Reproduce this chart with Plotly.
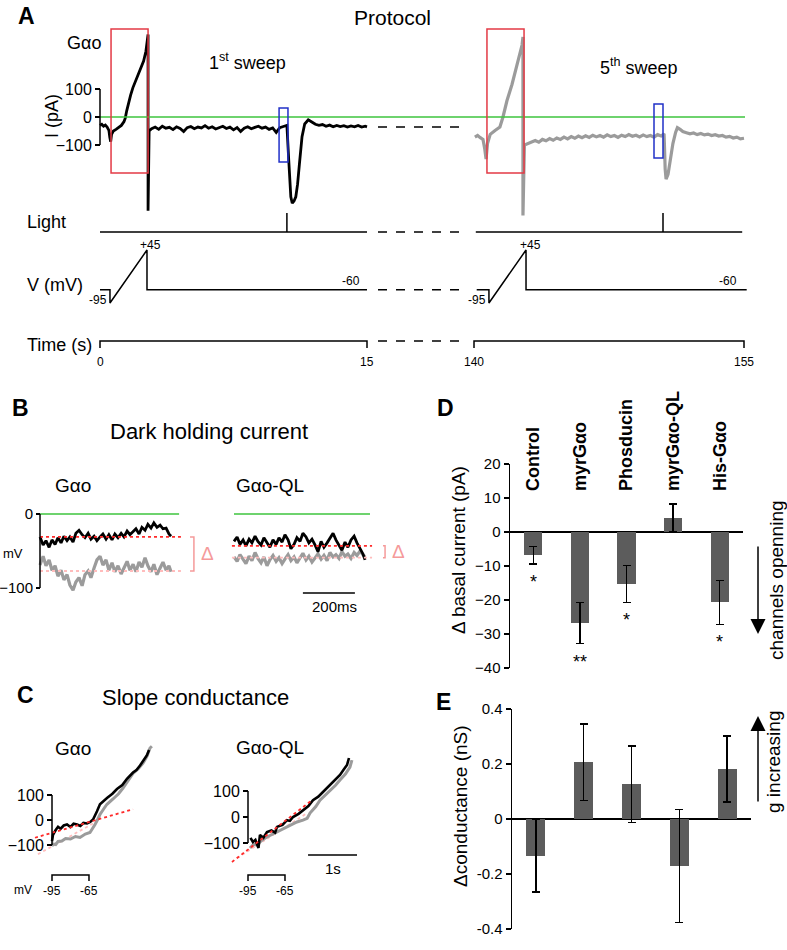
import plotly.graph_objects as go

W, H = 787, 950
FONT = "Liberation Sans, Arial, Helvetica, sans-serif"
BLACK = "#000000"
GRAY = "#9b9b9b"
GREEN = "#3ec43e"
RED_DOT = "#ff2a2a"
PINK_DOT = "#ffbcbc"
PINK = "#f59a9a"
BOX_RED = "#e33a45"
BOX_BLUE = "#2030c8"
BAR = "#5c5c5c"

# ====================== DATA ======================
# ---- Panel A: whole-cell current, sweep 1 and sweep 5 (time s, current pA)
sweep1_time = [0.0, 0.1, 0.2, 0.3, 0.4, 0.5, 0.55, 0.6, 0.65, 0.75,
               0.9, 1.05, 1.2, 1.35, 1.42, 1.5, 1.6, 1.72, 1.85, 2.0,
               2.15, 2.3, 2.45, 2.58, 2.7, 2.7, 2.76, 2.9, 3.1, 3.3,
               3.5, 3.7, 3.9, 4.1, 4.3, 4.5, 4.7, 4.9, 5.1, 5.3,
               5.5, 5.7, 5.9, 6.1, 6.3, 6.5, 6.7, 6.9, 7.1, 7.3,
               7.5, 7.7, 7.9, 8.1, 8.3, 8.5, 8.7, 8.9, 9.1, 9.3,
               9.5, 9.7, 9.9, 10.1, 10.3, 10.5, 10.6, 10.65, 10.72, 10.8,
               10.9, 11.0, 11.1, 11.2, 11.35, 11.5, 11.7, 11.9, 12.1, 12.3,
               12.5, 12.7, 12.9, 13.1, 13.3, 13.5, 13.7, 13.9, 14.1, 14.3,
               14.5, 14.7, 14.9, 15.0]
sweep1_current = [-30, -26, -33, -29, -36, -48, -72, -88, -62, -50,
                  -44, -38, -30, -16, -4, 22, 52, 78, 105, 128,
                  150, 172, 200, 235, 295, -335, -50, -42, -36, -44,
                  -33, -40, -37, -45, -35, -41, -52, -38, -34, -42,
                  -36, -39, -31, -40, -35, -43, -37, -33, -41, -36,
                  -46, -38, -52, -40, -35, -42, -37, -33, -40, -36,
                  -44, -39, -55, -38, -34, -30, -150, -230, -285, -308,
                  -300, -285, -240, -170, -70, -25, -10, -18, -26, -30,
                  -27, -33, -29, -35, -30, -34, -31, -36, -32, -35,
                  -30, -36, -33, -35]
sweep5_time = [140.05, 140.2, 140.35, 140.5, 140.6, 140.67, 140.75, 140.9, 141.17, 141.44,
               141.61, 141.83, 142.11, 142.39, 142.67, 142.72, 142.72, 142.8, 143.0,
               143.2, 143.4, 143.6, 143.8, 144.0, 144.2, 144.4, 144.6, 144.8, 145.0,
               145.2, 145.4, 145.6, 145.8, 146.0, 146.2, 146.4, 146.6, 146.8, 147.0,
               147.2, 147.4, 147.6, 147.8, 148.0, 148.2, 148.4, 148.6, 148.8, 149.0,
               149.2, 149.4, 149.6, 149.8, 150.0, 150.2, 150.4,
               150.56, 150.62, 150.67, 150.78, 150.9, 151.05, 151.2, 151.3, 151.45, 151.6,
               151.8, 152.0, 152.2, 152.4, 152.6, 152.8, 153.0, 153.2, 153.4, 153.6,
               153.8, 154.0, 154.2, 154.4, 154.6, 154.8, 155.0]
sweep5_current = [-72, -66, -74, -80, -115, -150, -95, -62, -48, -36,
                  0, 58, 116, 187, 257, 286, -352, -100, -94,
                  -88, -84, -90, -80, -85, -77, -83, -75, -80, -72,
                  -78, -70, -76, -68, -74, -67, -73, -65, -71, -66,
                  -72, -64, -70, -66, -73, -65, -70, -63, -69, -65,
                  -71, -64, -70, -66, -72, -63, -68,
                  -60, -185, -222, -205, -155, -95, -55, -38, -44, -52,
                  -56, -60, -57, -63, -59, -64, -61, -66, -63, -68,
                  -66, -72, -69, -75, -72, -78, -76]
sweep1_span = [0, 15]
sweep5_span = [140, 155]
gap_current_level = -36            # pA, dashed continuation between sweeps
light_on = [10.5, 150.5]           # s, light flash times
light_row_span = [[0, 15], [140.1, 154.9]]
v_hold, v_ramp_lo, v_ramp_hi = -60, -95, 45   # mV
sweep1_ramp = [0.56, 2.64]
sweep5_ramp = [140.83, 142.89]
sweep_v_span = [[0, 15], [140.15, 155.15]]
ramp_windows = [[0.62, 2.70], [140.72, 142.78]]
ramp_window_current = [-200, 314]
light_windows = [[10.06, 10.56], [150.0, 150.5]]
light_window_current = [[-161, 32], [-146, 46]]
time_ticks = [[0, 15], [140, 155]]

# ---- Panel B: dark holding current (time ms, current)
b_time_ms = [0, 12, 23, 35, 46, 58, 69, 81, 92, 104, 115, 127, 138, 150, 162,
             173, 185, 196, 208, 219, 231, 242, 254, 265, 277, 288, 300, 312,
             323, 335, 346, 358, 369, 381, 392, 404, 415, 427, 438, 450, 462,
             473, 485, 496, 504]
b_gao_black = [-31, -42, -36, -45, -35, -41, -32, -39, -30, -36, -31, -38, -26, -22, -28,
               -32, -26, -34, -30, -36, -31, -27, -34, -28, -35, -27, -32, -26, -31,
               -23, -28, -24, -20, -27, -18, -22, -14, -19, -12, -18, -15, -20, -19,
               -27, -30]
b_gao_gray = [-69, -57, -70, -62, -76, -70, -84, -76, -89, -82, -96, -103, -92, -86, -97,
              -82, -77, -86, -73, -62, -57, -69, -62, -76, -66, -78, -70, -81, -73,
              -64, -76, -68, -78, -65, -72, -59, -70, -78, -68, -82, -73, -65, -76,
              -70, -78]
b_ql_black = [-37, -31, -41, -35, -43, -34, -39, -30, -37, -42, -32, -38, -45, -35, -41,
              -32, -38, -28, -35, -47, -41, -32, -37, -26, -31, -39, -34, -42, -51,
              -37, -45, -39, -32, -26, -35, -42, -49, -38, -45, -35, -30, -39, -47,
              -54, -62]
b_ql_gray = [-58, -64, -55, -61, -67, -57, -63, -52, -60, -66, -58, -70, -62, -56, -64,
             -59, -67, -61, -55, -63, -58, -66, -60, -53, -62, -57, -65, -59, -54,
             -61, -56, -63, -52, -58, -55, -60, -51, -57, -54, -60, -52, -56, -50,
             -55, -58]
b_gao_levels = [-31, -77]          # red (sweep 1) and pink (sweep 5) dotted levels
b_ql_levels = [-43, -59]
b_gao_level_span = [0, 542]
b_ql_level_span = [-8, 531]
b_zero_span = [[0, 535], [0, 523]]
b_gao_bracket_ms = [577, 592]
b_ql_bracket_ms = [573, 581]
b_scale_ms = [265, 465]            # 200 ms bar

# ---- Panel C: slope conductance (voltage mV, current pA)
c_gao_black_v = [-95, -94.2, -92, -90.1, -88, -85.5, -82.8, -80, -77.5, -74.7, -72, -69.5,
                 -66.6, -64, -61.7, -60, -58.5, -56.1, -53, -50.4, -46, -42.3, -38, -34.2,
                 -29.3, -26.5, -23.6, -21, -18.0, -16.3]
c_gao_black_i = [-85, -59, -40, -27, -35, -22, -18, -28, -15, -18, -24, -12,
                 -14, -8, 2, 18, 35, 63, 78, 88, 105, 124, 140, 165,
                 190, 200, 218, 238, 259, 280]
c_gao_gray_v = [-95, -94.2, -92, -90.1, -87, -84, -80, -76, -72.3, -68, -64.2, -62, -60.1,
                -58, -56.1, -53, -50.4, -45.5, -41, -37.4, -33, -29.3, -25, -21.2, -18,
                -15.5, -14]
c_gao_gray_i = [-105, -96, -98, -86, -84, -74, -76, -66, -70, -56, -50, -35, -18,
                2, 22, 45, 63, 84, 105, 128, 158, 186, 205, 227, 255, 288, 295]
c_gao_red_v, c_gao_red_i = [-108.8, -29.3], [-71, 43]
c_gao_pink_v, c_gao_pink_i = [-106.4, -61.7], [-137, -14]
c_ql_black_v = [-93, -91, -89, -86.5, -85.3, -82.5, -79.6, -76, -73, -71.5, -67, -63.4,
                -61, -58.5, -54, -50.4, -46, -42.3, -38, -34.2, -30, -26.1, -23, -20.4,
                -17.5, -14.7, -13.1]
c_ql_black_i = [-80, -96, -88, -119, -69, -80, -58, -52, -60, -38, -30, -12,
                -15, 0, 12, 27, 42, 65, 78, 96, 115, 135, 148, 162, 182, 200, 227]
c_ql_gray_v = [-93.4, -90.5, -87.7, -84, -79.6, -75, -71.5, -67, -63.4, -59, -55.3, -50.4,
               -47, -44.7, -40, -36.6, -32, -28.5, -24, -20.4, -16, -12.3, -10.7]
c_ql_gray_i = [-119, -105, -108, -90, -77, -66, -58, -48, -38, -28, -19, -12,
               -5, 15, 40, 65, 85, 104, 122, 142, 165, 192, 219]
c_ql_red_v, c_ql_red_i = [-108, -43.1], [-173, 65]
c_ql_pink_v, c_ql_pink_i = [-103.9, -47.1], [-158, 15]
c_voltage_bar = [-95, -65]
ramp_rate_mv_per_s = 39.7
c_time_bar_start = -46.3

# ---- Panels D / E: bar charts
categories = ["Control", "myrGαo", "Phosducin", "myrGαo-QL", "His-Gαo"]
basal_mean = [-6.8, -26.8, -15.3, 4.2, -20.7]
basal_sem = [2.6, 6.0, 5.4, 4.0, 6.5]
basal_sig = ["*", "**", "*", "", "*"]
cond_mean = [-0.133, 0.206, 0.126, -0.171, 0.182]
cond_sem = [0.133, 0.139, 0.139, 0.206, 0.120]
d_ticks = [20, 10, 0, -10, -20, -30, -40]
e_ticks = [0.4, 0.2, 0, -0.2, -0.4]
e_ticktext = ["0.4", "0.2", "0", "-0.2", "-0.4"]


# ====================== LAYOUT HELPERS ======================
def xd(a, b):
    return [a / W, b / W]


def yd(top, bottom):
    return [1 - bottom / H, 1 - top / H]


def xr(a, b, p0, v0, s):
    return [v0 + (a - p0) / s, v0 + (b - p0) / s]


def yr(top, bottom, p0, v0, s):
    return [v0 + (p0 - bottom) / s, v0 + (p0 - top) / s]


HID = dict(visible=False, showgrid=False, zeroline=False, fixedrange=True)


def tick_y(domain, rng, pos, vals, texts=None, size=16, ln=5):
    d = dict(domain=domain, range=rng, anchor="free", position=pos, showline=False,
             ticks="outside", ticklen=ln, tickwidth=1.5, tickcolor=BLACK,
             tickvals=vals, showgrid=False, zeroline=False,
             tickfont=dict(family=FONT, size=size, color=BLACK))
    if texts is not None:
        d["ticktext"] = texts
    return d


def line(x, y, xa, ya, color, width, dash=None):
    return go.Scatter(x=x, y=y, xaxis=xa, yaxis=ya, mode="lines",
                      line=dict(color=color, width=width, dash=dash),
                      hoverinfo="skip", showlegend=False)


def ann(text, x, y, size=18, xanchor="center", yanchor="middle", angle=0, color=BLACK):
    return dict(text=text, x=x / W, y=1 - y / H, xref="paper", yref="paper",
                xanchor=xanchor, yanchor=yanchor, textangle=angle, showarrow=False,
                font=dict(family=FONT, size=size, color=color))


def dann(text, x, y, xref, yref, size=12, xanchor="center", yanchor="middle",
         xshift=0, yshift=0, color=BLACK):
    return dict(text=text, x=x, y=y, xref=xref, yref=yref, xanchor=xanchor,
                yanchor=yanchor, xshift=xshift, yshift=yshift, showarrow=False,
                font=dict(family=FONT, size=size, color=color))


# axis mappings (pixel anchors)
A_T1 = (100, 0, 17.8)
A_T5 = (474, 140, 18.0)
A_I = (117, 0, 0.28)
A_L = (232, 0, 19.0)
A_V = (303, -95, 0.3786)
A_TR = (341, 0, 1.0)
B_T1 = (40, 0, 0.26)
B_T2 = (234, 0, 0.26)
B_I = (514, 0, 0.74)
C_V1 = (52, -95, 1.233)
C_V2 = (248, -95, 1.233)
C_I1 = (820, 0, 0.25)
C_I2 = (817, 0, 0.26)


def yv(p, m):
    return m[1] + (m[0] - p) / m[2]


fig = go.Figure()
shapes = []
anns = []

# ====================== PANEL A ======================
fig.add_trace(line(sweep1_time, sweep1_current, "x", "y", BLACK, 2.8))
fig.add_trace(line(sweep5_time, sweep5_current, "x2", "y", GRAY, 3.2))
for k, (xa, span) in enumerate([("x", light_row_span[0]), ("x2", light_row_span[1])]):
    t_on = light_on[k]
    fig.add_trace(line([span[0], t_on, t_on, t_on, span[1]], [0, 0, 1, 0, 0], xa, "y2", BLACK, 1.5))
for xa, ramp, span in [("x", sweep1_ramp, sweep_v_span[0]), ("x2", sweep5_ramp, sweep_v_span[1])]:
    fig.add_trace(line([span[0], ramp[0], ramp[0], ramp[1], ramp[1], span[1]],
                       [v_hold, v_hold, v_ramp_lo, v_ramp_hi, v_hold, v_hold], xa, "y3", BLACK, 1.5))
tick_down = -7
for xa, tt in [("x", time_ticks[0]), ("x2", time_ticks[1])]:
    fig.add_trace(line([tt[0], tt[0], tt[1], tt[1]], [tick_down, 0, 0, tick_down], xa, "y4", BLACK, 1.5))
    for t in tt:
        anns.append(dann(str(t), t, tick_down, xa, "y4", size=12, yanchor="top", yshift=-5))
# dashed gap between sweeps
gap = [sweep1_span[1], sweep5_span[0]]
for ya, lvl in [("y", gap_current_level), ("y2", 0), ("y3", v_hold), ("y4", 0)]:
    fig.add_trace(line(gap, [lvl, lvl], "x3", ya, BLACK, 1.5, dash="dash"))

shapes.append(dict(type="line", xref="paper", yref="y", x0=100 / W, x1=745 / W, y0=0, y1=0,
                   line=dict(color=GREEN, width=1.5), layer="above"))
shapes.append(dict(type="line", xref="x", yref="y", x0=0, x1=0, y0=-100, y1=100,
                   line=dict(color=BLACK, width=1.5)))
for xa, rw in [("x", ramp_windows[0]), ("x2", ramp_windows[1])]:
    shapes.append(dict(type="rect", xref=xa, yref="y", x0=rw[0], x1=rw[1],
                       y0=ramp_window_current[0], y1=ramp_window_current[1],
                       line=dict(color=BOX_RED, width=1.5), fillcolor="rgba(0,0,0,0)"))
for k, xa in enumerate(["x", "x2"]):
    lw = light_windows[k]
    shapes.append(dict(type="rect", xref=xa, yref="y", x0=lw[0], x1=lw[1],
                       y0=light_window_current[k][0], y1=light_window_current[k][1],
                       line=dict(color=BOX_BLUE, width=1.5), fillcolor="rgba(0,0,0,0)"))

for xa, ramp, end in [("x", sweep1_ramp, 14.7), ("x2", sweep5_ramp, 154.7)]:
    anns.append(dann("+45", ramp[1], v_ramp_hi, xa, "y3", size=12, yanchor="bottom", xshift=4, yshift=-4))
    anns.append(dann("-95", ramp[0], v_ramp_lo, xa, "y3", size=12, xanchor="right", xshift=-1, yshift=3))
    anns.append(dann("-60", end, v_hold, xa, "y3", size=12, xanchor="right", yanchor="bottom"))

anns += [
    ann("<b>A</b>", 26, 16, 23),
    ann("Protocol", 392, 18, 21),
    ann("Gαo", 65, 43, 18, xanchor="left"),
    ann("1<sup>st</sup> sweep", 207, 62, 18, xanchor="left"),
    ann("5<sup>th</sup> sweep", 598, 66, 18, xanchor="left"),
    ann("I (pA)", 52, 116, 18, angle=-90),
    ann("Light", 25, 222, 18, xanchor="left"),
    ann("V (mV)", 25, 285, 18, xanchor="left"),
    ann("Time (s)", 25, 345, 18, xanchor="left"),
]

# ====================== PANEL B ======================
for xa, zspan in [("x4", b_zero_span[0]), ("x5", b_zero_span[1])]:
    fig.add_trace(line(zspan, [0, 0], xa, "y5", GREEN, 1.5))
fig.add_trace(line(b_time_ms, b_gao_gray, "x4", "y5", GRAY, 3.2))
fig.add_trace(line(b_time_ms, b_gao_black, "x4", "y5", BLACK, 2.8))
fig.add_trace(line(b_time_ms, b_ql_gray, "x5", "y5", GRAY, 3.2))
fig.add_trace(line(b_time_ms, b_ql_black, "x5", "y5", BLACK, 2.8))
for xa, span, lv in [("x4", b_gao_level_span, b_gao_levels), ("x5", b_ql_level_span, b_ql_levels)]:
    fig.add_trace(line(span, [lv[0], lv[0]], xa, "y5", RED_DOT, 1.8, dash="dot"))
    fig.add_trace(line(span, [lv[1], lv[1]], xa, "y5", PINK_DOT, 1.8, dash="dot"))
for xa, br, lv in [("x4", b_gao_bracket_ms, b_gao_levels), ("x5", b_ql_bracket_ms, b_ql_levels)]:
    shapes.append(dict(type="path", xref=xa, yref="y5",
                       path=f"M {br[0]},{lv[0]} L {br[1]},{lv[0]} L {br[1]},{lv[1]} L {br[0]},{lv[1]}",
                       line=dict(color=PINK, width=1.5)))
    anns.append(dann("Δ", br[1], (lv[0] + lv[1]) / 2, xa, "y5", size=19, xanchor="left",
                     xshift=5, color=PINK))
shapes.append(dict(type="line", xref="x4", yref="y5", x0=0, x1=0, y0=-100, y1=0,
                   line=dict(color=BLACK, width=1.5)))
b_bar_y = yv(593, B_I)
fig.add_trace(line(b_scale_ms, [b_bar_y, b_bar_y], "x5", "y5", BLACK, 1.5))
anns.append(dann("200ms", (b_scale_ms[0] + b_scale_ms[1]) / 2, b_bar_y, "x5", "y5",
                 size=15, yanchor="top", xshift=6, yshift=-3))
anns += [
    ann("<b>B</b>", 20, 408, 23),
    ann("Dark holding current", 209, 432, 22),
    ann("Gαo", 53, 486, 19, xanchor="left"),
    ann("Gαo-QL", 234, 486, 19, xanchor="left"),
    ann("mV", 13, 553, 13),
]

# ====================== PANEL C ======================
fig.add_trace(line(c_gao_pink_v, c_gao_pink_i, "x6", "y6", PINK_DOT, 1.8, dash="dot"))
fig.add_trace(line(c_gao_gray_v, c_gao_gray_i, "x6", "y6", GRAY, 3.0))
fig.add_trace(line(c_gao_black_v, c_gao_black_i, "x6", "y6", BLACK, 2.6))
fig.add_trace(line(c_gao_red_v, c_gao_red_i, "x6", "y6", RED_DOT, 1.8, dash="dot"))
fig.add_trace(line(c_ql_pink_v, c_ql_pink_i, "x7", "y7", PINK_DOT, 1.8, dash="dot"))
fig.add_trace(line(c_ql_gray_v, c_ql_gray_i, "x7", "y7", GRAY, 3.0))
fig.add_trace(line(c_ql_black_v, c_ql_black_i, "x7", "y7", BLACK, 2.6))
fig.add_trace(line(c_ql_red_v, c_ql_red_i, "x7", "y7", RED_DOT, 1.8, dash="dot"))
for xa, ya, m in [("x6", "y6", C_I1), ("x7", "y7", C_I2)]:
    shapes.append(dict(type="line", xref=xa, yref=ya, x0=-95, x1=-95, y0=-100, y1=100,
                       line=dict(color=BLACK, width=1.5)))
    yb, yt = yv(875, m), yv(881, m)
    fig.add_trace(line([c_voltage_bar[0], c_voltage_bar[0], c_voltage_bar[1], c_voltage_bar[1]],
                       [yt, yb, yb, yt], xa, ya, BLACK, 1.5))
    for v in c_voltage_bar:
        anns.append(dann(str(v), v, yt, xa, ya, size=12, yanchor="top", yshift=-1))
t_bar = [c_time_bar_start, c_time_bar_start + ramp_rate_mv_per_s * 1]
yb1 = yv(855, C_I2)
fig.add_trace(line(t_bar, [yb1, yb1], "x7", "y7", BLACK, 1.5))
anns.append(dann("1s", (t_bar[0] + t_bar[1]) / 2, yb1, "x7", "y7", size=15, yanchor="top", yshift=-3))
anns += [
    ann("<b>C</b>", 25, 695, 23),
    ann("Slope conductance", 195, 697, 22),
    ann("Gαo", 53, 748, 19, xanchor="left"),
    ann("Gαo-QL", 234, 747, 19, xanchor="left"),
    ann("mV", 23, 890, 12),
]

# ====================== PANEL D ======================
fig.add_trace(go.Bar(x=categories, y=basal_mean, xaxis="x8", yaxis="y8", width=0.39,
                     marker=dict(color=BAR, line=dict(width=0)),
                     error_y=dict(type="data", array=basal_sem, color=BLACK, thickness=1.5, width=4),
                     hoverinfo="skip", showlegend=False))
for c, m, s, sig in zip(categories, basal_mean, basal_sem, basal_sig):
    if sig:
        anns.append(dann(sig, c, m - s, "x8", "y8", size=18, yanchor="top", yshift=-6))

# ====================== PANEL E ======================
fig.add_trace(go.Bar(x=categories, y=cond_mean, xaxis="x9", yaxis="y9", width=0.4,
                     marker=dict(color=BAR, line=dict(width=0)),
                     error_y=dict(type="data", array=cond_sem, color=BLACK, thickness=1.5, width=4),
                     hoverinfo="skip", showlegend=False))

anns += [
    ann("<b>D</b>", 445, 408, 23),
    ann("Δ basal current (pA)", 458, 550, 19, angle=-90),
    ann("channels openning", 776, 580, 19, angle=-90),
    ann("<b>E</b>", 443, 702, 23),
    ann("Δconductance (nS)", 460, 806, 19, angle=-90),
    ann("g increasing", 773, 762, 19, angle=-90),
    dict(x=758 / W, y=1 - 634 / H, xref="paper", yref="paper", ax=0, ay=-89, text="",
         showarrow=True, arrowhead=2, arrowsize=2, arrowwidth=1.5, arrowcolor=BLACK),
    dict(x=758 / W, y=1 - 716 / H, xref="paper", yref="paper", ax=0, ay=87, text="",
         showarrow=True, arrowhead=2, arrowsize=2, arrowwidth=1.5, arrowcolor=BLACK),
]

# ====================== AXES ======================
layout_axes = dict(
    xaxis=dict(HID, domain=xd(90, 372), range=xr(90, 372, *A_T1), anchor="y"),
    xaxis2=dict(HID, domain=xd(466, 752), range=xr(466, 752, *A_T5), anchor="y"),
    xaxis3=dict(HID, domain=xd(378, 467), range=gap, anchor="y4"),
    yaxis=tick_y(yd(22, 224), yr(22, 224, *A_I), 100 / W, [-100, 0, 100], size=16),
    yaxis2=dict(HID, domain=yd(200, 240), range=yr(200, 240, *A_L), anchor="x"),
    yaxis3=dict(HID, domain=yd(236, 318), range=yr(236, 318, *A_V), anchor="x"),
    yaxis4=dict(HID, domain=yd(328, 354), range=yr(328, 354, *A_TR), anchor="x3"),
    xaxis4=dict(HID, domain=xd(36, 215), range=xr(36, 215, *B_T1), anchor="y5"),
    xaxis5=dict(HID, domain=xd(228, 410), range=xr(228, 410, *B_T2), anchor="y5"),
    yaxis5=tick_y(yd(500, 600), yr(500, 600, *B_I), 40 / W, [0, -100], size=15, ln=4),
    xaxis6=dict(HID, domain=xd(15, 160), range=xr(15, 160, *C_V1), anchor="y6"),
    xaxis7=dict(HID, domain=xd(222, 368), range=xr(222, 368, *C_V2), anchor="y7"),
    yaxis6=tick_y(yd(738, 900), yr(738, 900, *C_I1), 52 / W, [-100, 0, 100], size=16),
    yaxis7=tick_y(yd(738, 900), yr(738, 900, *C_I2), 248 / W, [-100, 0, 100], size=16),
    xaxis8=dict(domain=xd(510, 743), range=[-0.5, 4.5], anchor="free", position=1 - 491 / H,
                side="top", tickangle=-90, ticks="", showline=False, showgrid=False,
                zeroline=False, tickvals=categories, ticktext=[f"<b>{c}</b>" for c in categories],
                tickfont=dict(family=FONT, size=18, color=BLACK), fixedrange=True),
    yaxis8=dict(domain=yd(464, 668), range=[-40, 20], anchor="x8", showline=True,
                linecolor=BLACK, linewidth=1.5, ticks="outside", ticklen=5, tickwidth=1.5,
                tickcolor=BLACK, tickvals=d_ticks, showgrid=False, zeroline=True,
                zerolinecolor=BLACK, zerolinewidth=1.5,
                tickfont=dict(family=FONT, size=15, color=BLACK)),
    xaxis9=dict(HID, domain=xd(512, 751), range=[-0.5, 4.5], anchor="y9"),
    yaxis9=dict(domain=yd(709, 929), range=[-0.4, 0.4], anchor="x9", showline=True,
                linecolor=BLACK, linewidth=1.5, ticks="outside", ticklen=5, tickwidth=1.5,
                tickcolor=BLACK, tickvals=e_ticks, ticktext=e_ticktext, showgrid=False,
                zeroline=True, zerolinecolor=BLACK, zerolinewidth=1.5,
                tickfont=dict(family=FONT, size=15, color=BLACK)),
)

fig.update_layout(
    width=W, height=H, margin=dict(l=0, r=0, t=0, b=0, pad=0, autoexpand=False),
    paper_bgcolor="white", plot_bgcolor="rgba(0,0,0,0)",
    font=dict(family=FONT, color=BLACK),
    showlegend=False, shapes=shapes, annotations=anns, bargap=0,
    **layout_axes,
)

fig.write_html("out.html", config={"displayModeBar": False, "staticPlot": True},
               post_script="document.body.style.margin='0';document.body.style.padding='0';"
                           "document.body.style.overflow='hidden';")
